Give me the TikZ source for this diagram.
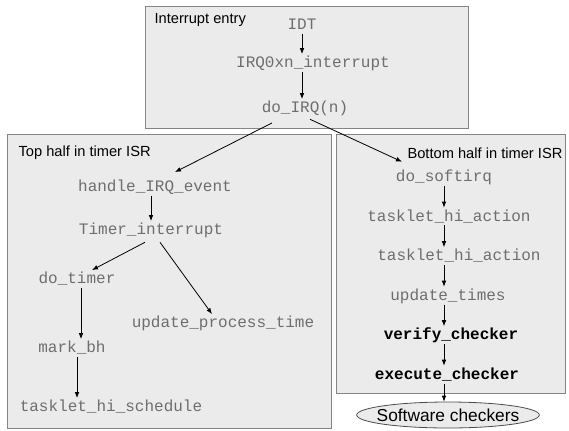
\documentclass[tikz,border=0pt]{standalone}
\usepackage{fontspec}
\setmainfont{Liberation Sans}
\setmonofont{Liberation Mono}
\usetikzlibrary{arrows.meta,positioning,shapes.geometric}
\definecolor{panelgray}{HTML}{EBEBEB}
\definecolor{framegray}{HTML}{858585}
\definecolor{codegray}{HTML}{6E6E6E}

\begin{document}
\begin{tikzpicture}[
			x=0.75pt,y=-0.75pt,
			node distance=16.25pt,
			every node/.style={inner sep=1pt},
			panel/.style={draw=framegray,fill=panelgray,line width=0.75pt},
			title/.style={font=\fontsize{11}{13}\selectfont,text=black},
			fn/.style={font=\ttfamily\fontsize{12}{14}\selectfont,text=codegray,text height=9pt,text depth=2pt},
			chk/.style={fn,text=black,font=\ttfamily\bfseries\fontsize{12}{14}\selectfont},
			sink/.style={ellipse,draw=black!70,fill=panelgray,line width=0.6pt,inner sep=0pt,minimum width=137pt,minimum height=19.5pt,font=\fontsize{13}{15}\selectfont},
			arr/.style={-{Latex[length=4.5pt,width=3.5pt]},line width=0.6pt,draw=black}
			]
			\useasboundingbox (0,0) rectangle (569,430);
			% the three regions
			\draw[panel] (145,6) rectangle (468,128);
			\draw[panel] (7,134) rectangle (331,428);
			\draw[panel] (336,134) rectangle (565,393);
			\node[title,anchor=west] (entrylbl) at (153,20) {Interrupt entry};
			\node[title,anchor=west] (toplbl) at (17,153) {Top half in timer ISR};
			\node[title,anchor=east] (botlbl) at (564,153) {Bottom half in timer ISR};
			% interrupt entry
			\node[fn] (idt) at (302,25) {IDT};
			\node[fn] (irqentry) at (313,63) {IRQ0xn\_interrupt};
			\node[fn] (doirq) at (305,108) {do\_IRQ(n)};
			% top half
			\node[fn] (handle) at (155,187) {handle\_IRQ\_event};
			\node[fn] (timer) at (151,230) {Timer\_interrupt};
			\node[fn] (dotimer) at (77,279) {do\_timer};
			\node[fn] (update) at (223,323) {update\_process\_time};
			\node[fn] (markbh) at (72,348) {mark\_bh};
			\node[fn] (schedule) at (111,407) {tasklet\_hi\_schedule};
			% bottom half
			\node[fn] (softirq) at (444,177) {do\_softirq};
			\node[fn,below=of softirq,xshift=3.75pt] (hione) {tasklet\_hi\_action};
			\node[fn,below=of hione,xshift=7.5pt] (hitwo) {tasklet\_hi\_action};
			\node[fn,below=of hitwo,xshift=-8.25pt] (updtimes) {update\_times};
			\node[chk,below=of updtimes,xshift=2.25pt] (verify) {verify\_checker};
			\node[chk,below=of verify,xshift=-3pt] (execute) {execute\_checker};
			\node[sink] (checkers) at (448,415) {\makebox[0pt]{Software checkers}};
			\draw[arr] (idt.south) -- (idt.south |- irqentry.north);
			\draw[arr] (irqentry.south -| idt) -- (doirq.north -| idt);
			\draw[arr] ([xshift=-24.75pt,yshift=-4.5pt]doirq.south) -- ([xshift=15pt,yshift=4.5pt]handle.north);
			\draw[arr] ([xshift=3.75pt,yshift=-1.75pt]doirq.south) -- ([xshift=-31.5pt,yshift=4.75pt]softirq.north);
			\draw[arr] (handle.south -| timer) -- (timer.north);
			\draw[arr] ([xshift=-4.5pt,yshift=-2.5pt]timer.south) -- ([xshift=11.25pt]dotimer.north);
			\draw[arr] ([xshift=6.75pt,yshift=-2.5pt]timer.south) -- ([xshift=-8.25pt]update.north);
			\draw[arr] ([xshift=3pt]dotimer.south) -- ([xshift=3pt]dotimer.south |- markbh.north);
			\draw[arr] ([xshift=3.75pt]markbh.south) -- ([xshift=3.75pt]markbh.south |- schedule.north);
			\draw[arr] (softirq.south) -- (softirq.south |- hione.north);
			\draw[arr] (hione.south -| softirq) -- (hitwo.north -| softirq);
			\draw[arr] (hitwo.south -| softirq) -- (updtimes.north -| softirq);
			\draw[arr] (updtimes.south -| softirq) -- (verify.north -| softirq);
			\draw[arr] (verify.south -| softirq) -- (execute.north -| softirq);
			\draw[arr] (execute.south -| softirq) -- (checkers.north -| softirq);
		\end{tikzpicture}
\end{document}
